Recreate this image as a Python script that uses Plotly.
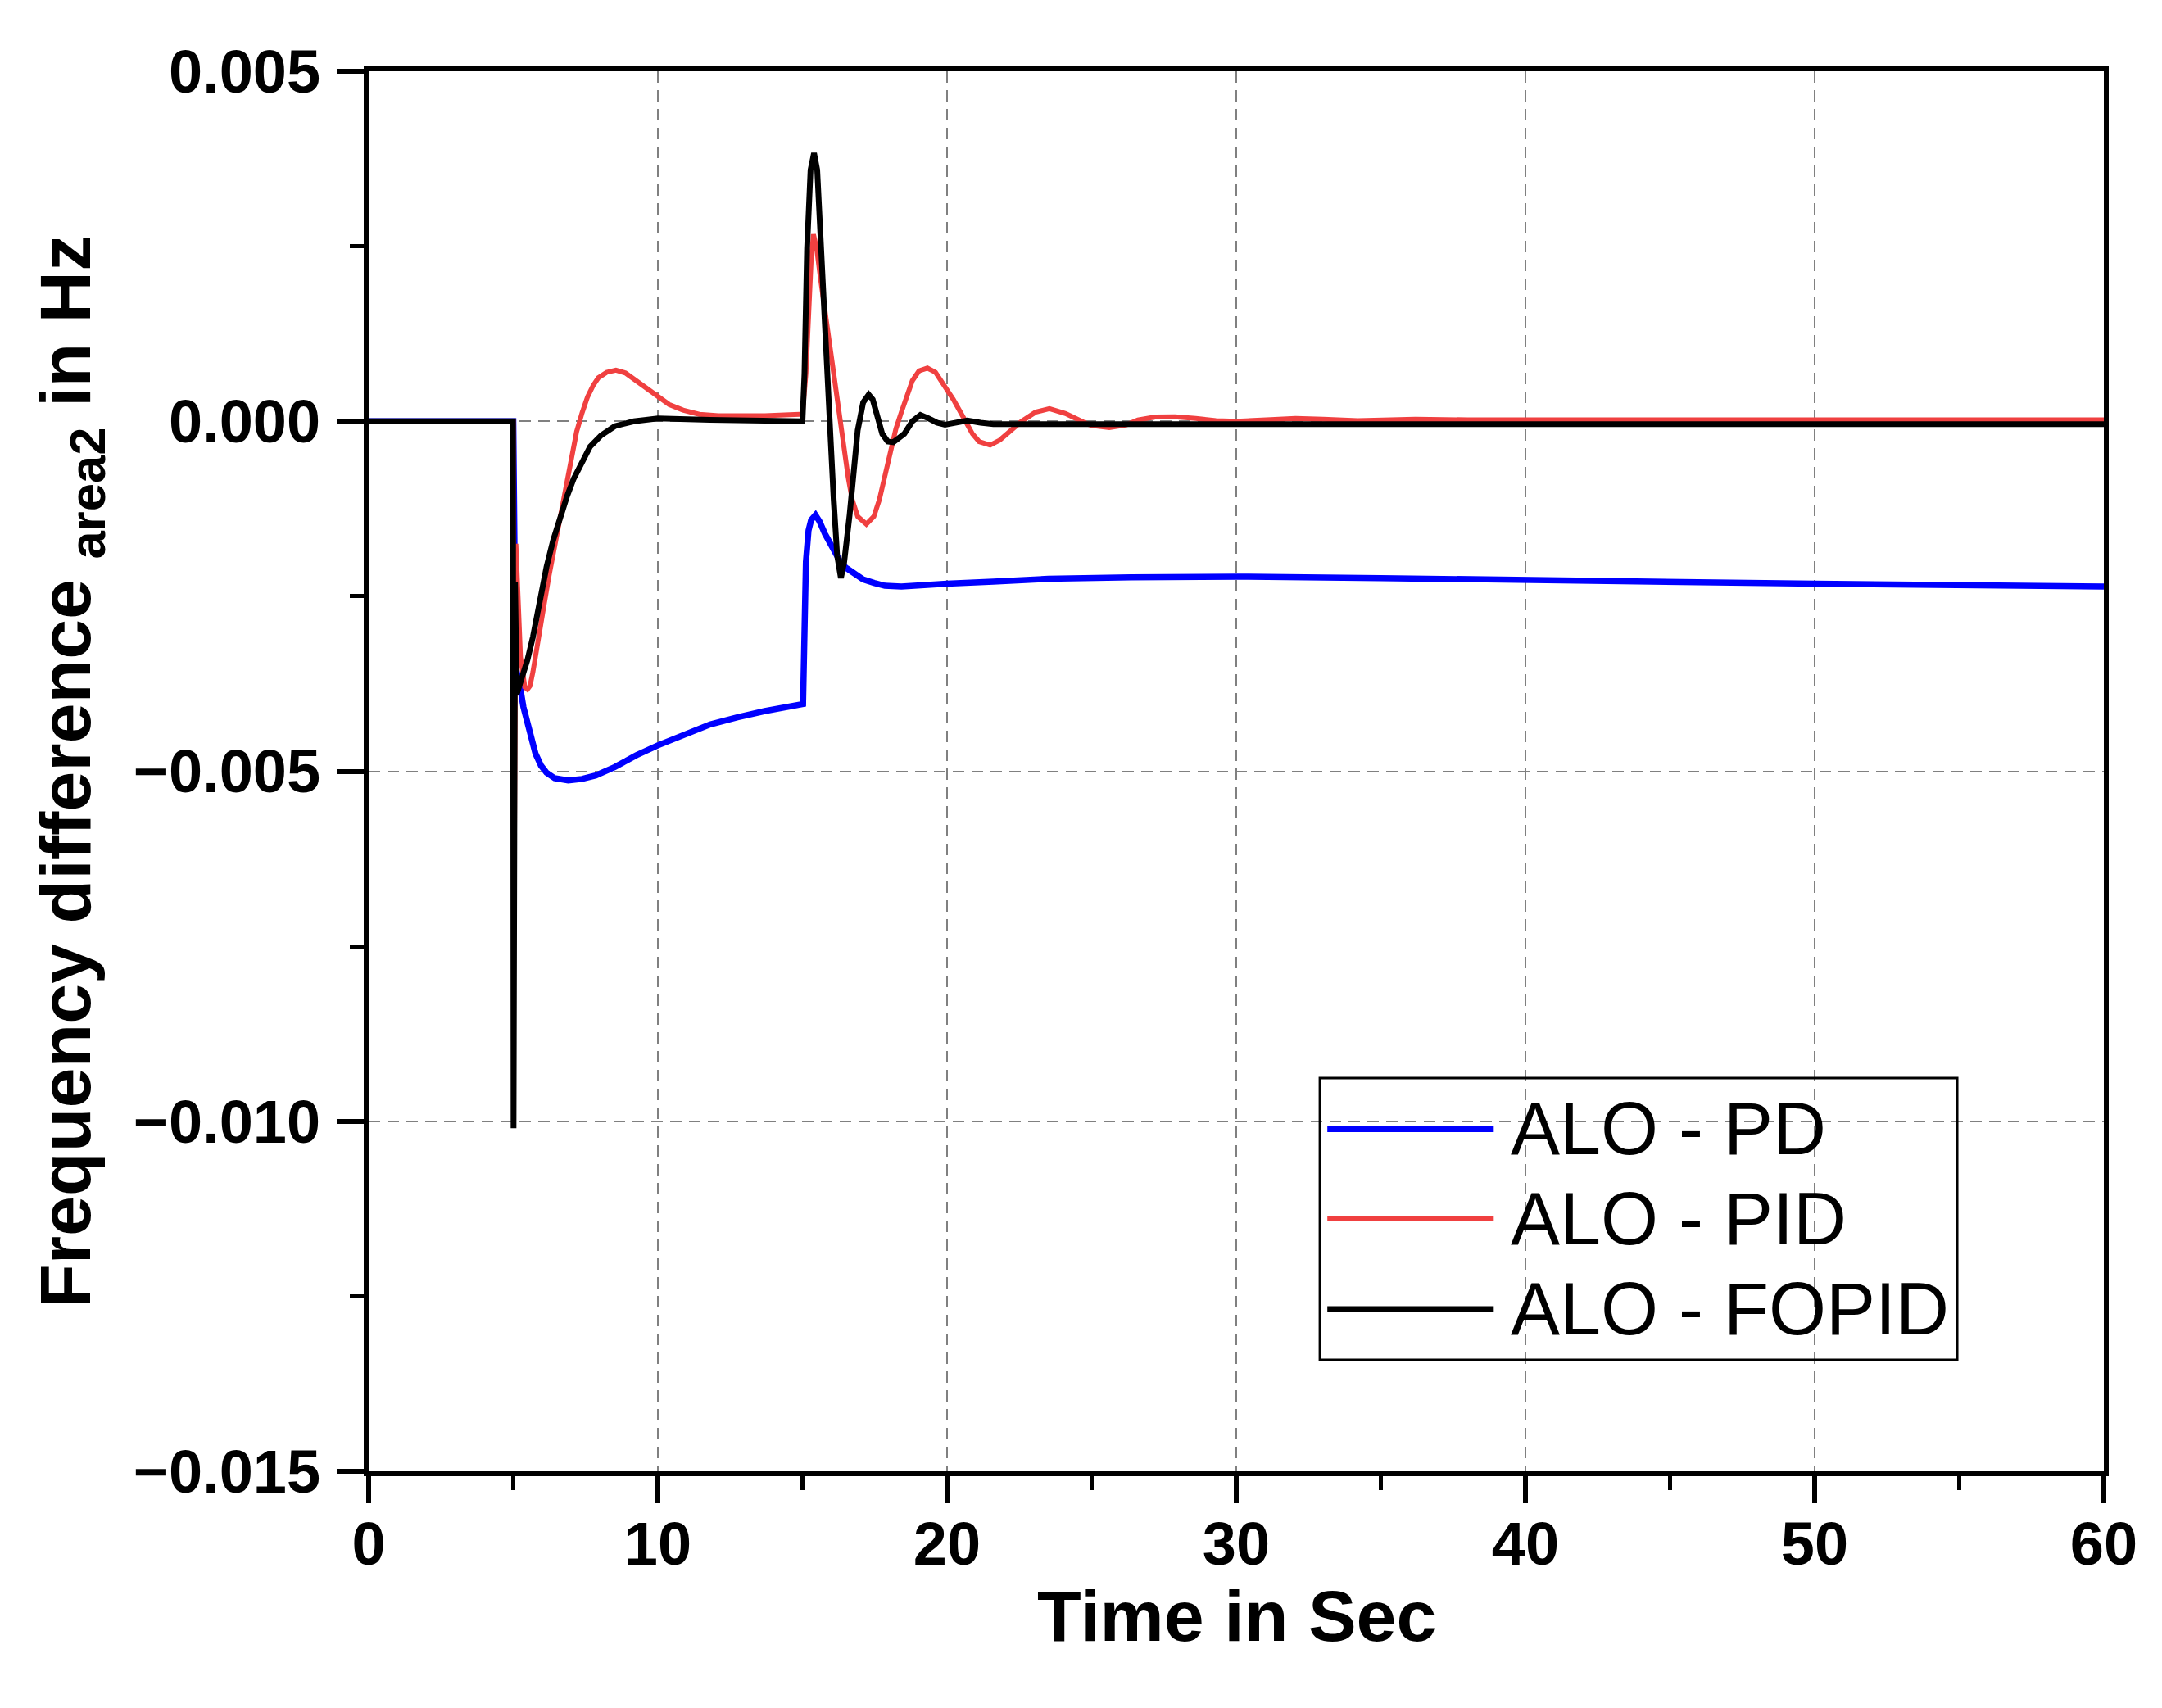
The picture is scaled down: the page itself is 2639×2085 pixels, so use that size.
import plotly.graph_objects as go

# --- data: time (s) and frequency deviation (Hz) ---
t_pd = [0, 5.0, 5.08, 5.2, 5.25, 5.35, 5.49, 5.63, 5.77, 5.96, 6.15, 6.43, 6.9, 7.38, 7.85,
        8.51, 9.26, 10.0, 10.87, 11.81, 12.75, 13.7, 15.02, 15.06, 15.12, 15.21, 15.3,
        15.45, 15.59, 15.78, 15.97, 16.16, 16.34, 16.53, 16.81, 17.1, 17.48, 17.85, 18.42,
        19.27, 20.0, 21.6, 23.5, 26.35, 30, 35, 41, 50, 60]
f_pd = [0, 0, -0.0035, -0.0037, -0.00383, -0.00408, -0.00433, -0.00456, -0.00475, -0.00492,
        -0.00502, -0.0051, -0.00513, -0.00511, -0.00506, -0.00494, -0.00477, -0.00463,
        -0.00448, -0.00433, -0.00423, -0.00414, -0.00404, -0.0031, -0.00201, -0.00156,
        -0.00141, -0.00134, -0.00143, -0.00161, -0.00176, -0.00192, -0.00203, -0.0021,
        -0.00219, -0.00226, -0.00231, -0.00235, -0.00236, -0.00235, -0.00232, -0.00229,
        -0.00225, -0.00223, -0.00222, -0.00224, -0.002275, -0.00232, -0.00236]

t_pid = [0, 5.0, 5.03, 5.09, 5.25, 5.4, 5.49, 5.58, 5.68, 5.86, 6.05, 6.24, 6.43, 6.62, 6.81,
         7.0, 7.19, 7.38, 7.57, 7.76, 7.94, 8.23, 8.55, 8.88, 9.26, 9.64, 10.0, 10.39, 10.87,
         11.43, 12.09, 13.7, 14.9, 15.0, 15.12, 15.21, 15.3, 15.38, 15.49, 15.63, 15.78,
         15.97, 16.16, 16.3, 16.44, 16.58, 16.72, 16.91, 17.21, 17.47, 17.66, 17.85, 18.04,
         18.23, 18.42, 18.61, 18.8, 19.03, 19.32, 19.6, 19.89, 20.22, 20.45, 20.69, 20.88,
         21.11, 21.49, 21.82, 22.2, 22.58, 23.06, 23.54, 24.1, 24.46, 24.86, 25.0, 25.61,
         26.2, 26.6, 27.2, 27.88, 28.6, 29.3, 30.0, 31.0, 32.05, 33.0, 34.2, 36.2, 38, 60]
f_pid = [0, 0, -0.0069, -0.00175, -0.00337, -0.0038, -0.00383, -0.00378, -0.00358, -0.00308,
         -0.00266, -0.0022, -0.00179, -0.00137, -0.00095, -0.00053, -0.00015, 0.00012,
         0.00035, 0.00051, 0.00062, 0.0007, 0.00073, 0.00069, 0.00058, 0.00045, 0.00035,
         0.00024, 0.00016, 0.0001, 0.00008, 0.00008, 0.0001, 0.0001, 0.00068, 0.00157,
         0.0023, 0.00267, 0.00247, 0.00202, 0.00157, 0.00099, 0.00045, 0.0, -0.00045,
         -0.0008, -0.00112, -0.00136, -0.00147, -0.00136, -0.00112, -0.0008, -0.00045,
         -0.00011, 0.00013, 0.00038, 0.00058, 0.00072, 0.00076, 0.0007, 0.00052, 0.00031,
         0.00014, -0.00004, -0.00018, -0.00029, -0.00034, -0.00027, -0.00013, 0.0, 0.00013,
         0.00018, 0.00011, 0.00003, -0.00004, -0.00006, -0.00009, -0.00005, 0.00002, 0.00006,
         0.000065, 0.00004, 0.00001, 0.0, 0.00002, 0.00004, 0.00003, 0.00001, 0.00003,
         0.00002, 0.00002]

t_fopid = [0, 4.99, 5.01, 5.06, 5.12, 5.2, 5.3, 5.49, 5.68, 5.91, 6.15, 6.38, 6.62, 6.86,
           7.09, 7.38, 7.66, 8.04, 8.51, 9.17, 10.0, 11.8, 13.7, 15.0, 15.07, 15.16, 15.28,
           15.4, 15.51, 15.61, 15.73, 15.85, 15.97, 16.08, 16.2, 16.33, 16.44, 16.63, 16.77,
           16.91, 17.1, 17.29, 17.43, 17.57, 17.76, 17.95, 18.14, 18.33, 18.52, 18.8, 19.08,
           19.37, 19.65, 19.93, 20.31, 20.7, 21.16, 21.6, 26, 60]
f_fopid = [0, 0, -0.0101, -0.0023, -0.0039, -0.0038, -0.00371, -0.00341, -0.00308, -0.00258,
           -0.00208, -0.0017, -0.00137, -0.00107, -0.00082, -0.00057, -0.00036, -0.0002,
           -0.00007, 0.0, 0.00004, 0.00002, 0.00001, 0.0, 0.00068, 0.00247, 0.00359, 0.00383,
           0.00359, 0.00269, 0.00157, 0.00068, -0.00022, -0.00112, -0.00192, -0.00224,
           -0.00202, -0.00134, -0.00067, -0.00013, 0.00027, 0.00038, 0.00031, 0.00009,
           -0.00018, -0.00029, -0.0003, -0.00024, -0.00018, 0.0, 0.00009, 0.00004, -0.00002,
           -0.00005, -0.00002, 0.00001, -0.00002, -0.00004, -0.00004, -0.00004]

names = ["ALO - PD", "ALO - PID", "ALO - FOPID"]
colors = ["#0000FF", "#F04040", "#000000"]
widths = [7.5, 6, 7]

x_ticks = [0, 10, 20, 30, 40, 50, 60]
y_ticks = [-0.015, -0.010, -0.005, 0.000, 0.005]

FONT = "Arial, Liberation Sans, sans-serif"

fig = go.Figure()
series = [(t_pd, f_pd), (t_pid, f_pid), (t_fopid, f_fopid)]
for (tt, ff), name, col, w in zip(series, names, colors, widths):
    fig.add_trace(go.Scatter(x=tt, y=ff, mode="lines", name=name,
                             line=dict(color=col, width=w), showlegend=False))

axis_common = dict(
    showline=True, linecolor="black", linewidth=6, mirror=True,
    ticks="outside", ticklen=33, tickwidth=6, tickcolor="black",
    showgrid=True, gridcolor="#808080", gridwidth=2, griddash="14px,9px",
    zeroline=False,
    tickfont=dict(family=FONT, size=74, color="black", weight="bold"),
)

fig.update_xaxes(range=[0, 60], tickvals=x_ticks,
                 minor=dict(dtick=5, tick0=0, ticks="outside", ticklen=17,
                            tickwidth=5, tickcolor="black", showgrid=False),
                 ticklabelstandoff=-14, **axis_common)
fig.update_yaxes(range=[-0.015, 0.005], tickvals=y_ticks, tickformat=".3f",
                 minor=dict(dtick=0.0025, tick0=-0.015, ticks="outside", ticklen=17,
                            tickwidth=5, tickcolor="black", showgrid=False),
                 ticklabelstandoff=5, **axis_common)

# hand-made legend box (long line samples like the original)
shapes = [dict(type="rect", xref="paper", yref="paper", x0=0.5482, x1=0.9155,
               y0=0.0796, y1=0.2808, line=dict(color="black", width=3), layer="above")]
annotations = []
rows = [0.2445, 0.1802, 0.1158]
for name, col, w, yr in zip(names, colors, widths, rows):
    shapes.append(dict(type="line", xref="paper", yref="paper", x0=0.5525, x1=0.6484,
                       y0=yr, y1=yr, line=dict(color=col, width=w), layer="above"))
    annotations.append(dict(text=name, xref="paper", yref="paper", x=0.6570, y=yr,
                            xanchor="left", yanchor="middle", showarrow=False,
                            font=dict(family=FONT, size=90, color="black")))

annotations.append(dict(text="<b>Time in Sec</b>", xref="paper", yref="paper",
                        x=0.5, y=-0.103, xanchor="center", yanchor="middle",
                        showarrow=False, font=dict(family=FONT, size=88, color="black")))
annotations.append(dict(text="<b>Frequency difference <sub>area2</sub> in Hz</b>",
                        xref="paper", yref="paper", x=-0.1721, y=0.5, textangle=-90,
                        xanchor="center", yanchor="middle", showarrow=False,
                        font=dict(family=FONT, size=88, color="black")))

# the page body adds an 8px offset, so the figure is 8px smaller with 8px less margin
fig.update_layout(
    width=2631, height=2077,
    margin=dict(l=442, r=71, t=79, b=289),
    plot_bgcolor="white", paper_bgcolor="white",
    shapes=shapes, annotations=annotations,
    showlegend=False,
)

fig.write_html("out.html")
